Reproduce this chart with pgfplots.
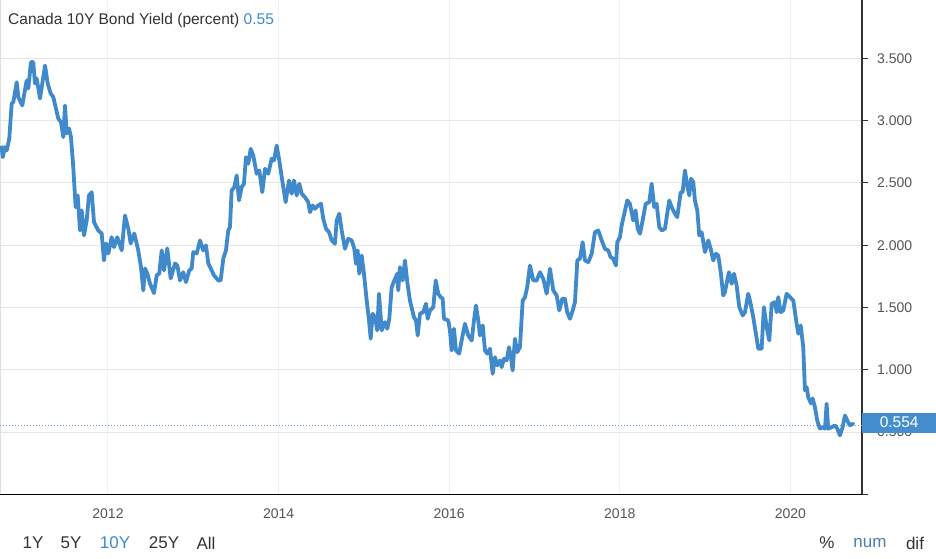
\documentclass[border=0pt]{standalone}
\usepackage{fontspec}
\setmainfont{Liberation Sans}
\usepackage{pgfplots}
\pgfplotsset{compat=1.18}

\definecolor{yieldline}{RGB}{64,138,204}
\definecolor{boxblue}{RGB}{68,141,206}
\definecolor{txtdark}{RGB}{51,51,51}
\definecolor{txtgray}{RGB}{85,85,85}
\definecolor{txtblue}{RGB}{58,140,208}
\definecolor{numblue}{RGB}{74,122,184}
\definecolor{ygrid}{RGB}{230,230,230}
\definecolor{xgrid}{RGB}{236,242,248}

\begin{document}
\begin{tikzpicture}[x=1pt,y=1pt]
\useasboundingbox (0,0) rectangle (936,558);
\begin{axis}[
  at={(0,51)}, anchor=south west,
  width=862pt, height=494pt, scale only axis,
  xmin=2010.734, xmax=2020.840,
  ymin=0, ymax=3.965,
  axis x line*=bottom, axis y line*=right,
  x axis line style={black, line width=1.3pt},
  y axis line style={txtdark, line width=1.3pt},
  xtick={2012,2014,2016,2018,2020},
  xticklabels={2012,2014,2016,2018,2020},
  ytick={0,0.5,1,1.5,2,2.5,3,3.5},
  yticklabel={\ifdim\tick pt=0pt \else\pgfmathprintnumber[fixed,fixed zerofill,precision=3]{\tick}\fi},
  /pgf/number format/assume math mode=true,
  tick align=outside,
  major tick length=6pt,
  xtick style={draw=none},
  ytick style={draw=txtdark, line width=1pt},
  xmajorgrids, ymajorgrids,
  x grid style={xgrid, line width=1pt},
  y grid style={ygrid, line width=1pt},
  xticklabel style={font=\fontsize{14}{16}\selectfont, text=txtgray, anchor=base, yshift=-18pt},
  yticklabel style={font=\fontsize{14}{16}\selectfont, text=txtgray, anchor=west, inner sep=0pt, xshift=9pt},
  clip=false,
]
\draw[gray!25, line width=1pt] (rel axis cs:0,0) -- (rel axis cs:0,1);
\addplot[yieldline!80, line width=1pt, dotted] coordinates {(2010.734,0.554) (2020.840,0.554)};
\addplot[yieldline, line width=3.8pt, line join=round, line cap=round] table {
2010.734 2.761
2010.754 2.788
2010.766 2.707
2010.793 2.788
2010.813 2.761
2010.843 2.857
2010.871 3.138
2010.890 3.149
2010.930 3.309
2010.949 3.189
2010.995 3.122
2011.047 3.323
2011.066 3.259
2011.097 3.470
2011.124 3.470
2011.144 3.299
2011.164 3.339
2011.203 3.178
2011.262 3.443
2011.293 3.299
2011.328 3.219
2011.359 3.189
2011.417 3.018
2011.449 2.988
2011.476 2.868
2011.496 3.122
2011.516 2.898
2011.543 2.938
2011.566 2.868
2011.593 2.627
2011.621 2.306
2011.645 2.400
2011.672 2.119
2011.692 2.280
2011.719 2.079
2011.750 2.199
2011.777 2.400
2011.809 2.426
2011.836 2.186
2011.886 2.119
2011.926 2.095
2011.953 1.878
2011.977 2.015
2012.004 1.934
2012.043 2.065
2012.070 1.985
2012.109 2.065
2012.161 1.959
2012.199 2.239
2012.238 2.135
2012.266 2.015
2012.308 2.095
2012.355 1.959
2012.387 1.825
2012.414 1.638
2012.434 1.814
2012.461 1.774
2012.492 1.694
2012.539 1.616
2012.571 1.758
2012.601 1.774
2012.630 1.959
2012.657 1.798
2012.695 1.975
2012.735 1.734
2012.786 1.854
2012.813 1.838
2012.844 1.718
2012.883 1.784
2012.914 1.704
2012.953 1.798
2012.981 1.814
2013.000 1.945
2013.040 1.934
2013.079 2.039
2013.117 1.959
2013.149 1.999
2013.176 1.854
2013.216 1.798
2013.243 1.758
2013.293 1.718
2013.321 1.718
2013.352 1.894
2013.383 1.959
2013.410 2.119
2013.430 2.146
2013.450 2.440
2013.481 2.467
2013.509 2.561
2013.536 2.360
2013.567 2.467
2013.594 2.494
2013.618 2.707
2013.645 2.654
2013.673 2.775
2013.703 2.721
2013.743 2.574
2013.774 2.601
2013.809 2.426
2013.841 2.614
2013.879 2.574
2013.919 2.695
2013.946 2.681
2013.978 2.801
2014.008 2.681
2014.043 2.520
2014.083 2.346
2014.122 2.520
2014.154 2.414
2014.181 2.520
2014.212 2.400
2014.243 2.494
2014.271 2.414
2014.309 2.386
2014.348 2.346
2014.368 2.266
2014.400 2.320
2014.427 2.293
2014.465 2.320
2014.497 2.333
2014.524 2.213
2014.556 2.133
2014.591 2.105
2014.623 2.039
2014.661 2.012
2014.681 2.199
2014.712 2.253
2014.740 2.119
2014.778 1.972
2014.817 2.052
2014.857 2.039
2014.888 1.972
2014.907 1.852
2014.927 1.959
2014.946 1.772
2014.974 1.918
2015.001 1.772
2015.033 1.557
2015.060 1.397
2015.080 1.250
2015.103 1.451
2015.130 1.423
2015.157 1.317
2015.177 1.611
2015.209 1.317
2015.247 1.383
2015.274 1.330
2015.298 1.410
2015.326 1.664
2015.365 1.731
2015.392 1.772
2015.403 1.638
2015.423 1.825
2015.455 1.718
2015.482 1.878
2015.509 1.704
2015.540 1.557
2015.587 1.423
2015.611 1.397
2015.631 1.276
2015.658 1.451
2015.696 1.463
2015.728 1.531
2015.748 1.410
2015.775 1.477
2015.814 1.504
2015.842 1.718
2015.872 1.611
2015.900 1.584
2015.924 1.571
2015.939 1.410
2015.989 1.397
2016.009 1.317
2016.029 1.156
2016.056 1.330
2016.080 1.156
2016.118 1.130
2016.146 1.236
2016.185 1.370
2016.224 1.276
2016.264 1.236
2016.291 1.397
2016.314 1.517
2016.341 1.397
2016.361 1.276
2016.393 1.357
2016.420 1.156
2016.447 1.130
2016.478 1.170
2016.510 0.969
2016.537 1.102
2016.564 1.036
2016.596 1.076
2016.615 1.022
2016.642 1.089
2016.674 1.076
2016.701 1.182
2016.724 1.102
2016.744 0.995
2016.771 1.250
2016.798 1.142
2016.830 1.182
2016.862 1.557
2016.889 1.584
2016.915 1.664
2016.947 1.838
2016.986 1.718
2017.026 1.718
2017.064 1.784
2017.103 1.731
2017.143 1.611
2017.182 1.812
2017.220 1.638
2017.260 1.597
2017.291 1.477
2017.326 1.571
2017.357 1.571
2017.384 1.463
2017.416 1.410
2017.448 1.477
2017.475 1.544
2017.502 1.878
2017.533 1.892
2017.565 2.025
2017.592 1.878
2017.631 1.865
2017.671 1.932
2017.709 2.105
2017.748 2.119
2017.788 2.039
2017.826 1.972
2017.865 1.959
2017.893 1.905
2017.924 1.892
2017.955 1.838
2017.971 2.025
2018.002 2.065
2018.022 2.159
2018.053 2.253
2018.088 2.360
2018.119 2.333
2018.158 2.199
2018.186 2.280
2018.210 2.133
2018.237 2.093
2018.268 2.199
2018.304 2.333
2018.346 2.346
2018.374 2.494
2018.404 2.306
2018.432 2.333
2018.463 2.146
2018.491 2.119
2018.530 2.133
2018.580 2.360
2018.608 2.306
2018.647 2.253
2018.674 2.226
2018.714 2.426
2018.737 2.426
2018.764 2.601
2018.791 2.480
2018.815 2.400
2018.835 2.534
2018.862 2.507
2018.881 2.360
2018.909 2.280
2018.932 2.079
2018.960 2.105
2018.999 1.945
2019.038 2.039
2019.066 1.972
2019.096 1.878
2019.128 1.932
2019.155 1.918
2019.186 1.772
2019.213 1.597
2019.233 1.624
2019.260 1.718
2019.280 1.784
2019.312 1.691
2019.339 1.772
2019.370 1.678
2019.401 1.504
2019.441 1.437
2019.468 1.463
2019.506 1.611
2019.526 1.557
2019.565 1.423
2019.624 1.170
2019.663 1.170
2019.690 1.504
2019.722 1.343
2019.753 1.236
2019.781 1.531
2019.819 1.544
2019.839 1.463
2019.858 1.584
2019.886 1.463
2019.917 1.477
2019.956 1.611
2019.995 1.584
2020.034 1.557
2020.074 1.370
2020.093 1.290
2020.121 1.357
2020.151 1.182
2020.171 0.835
2020.191 0.861
2020.210 0.781
2020.241 0.731
2020.261 0.771
2020.288 0.701
2020.315 0.594
2020.347 0.528
2020.379 0.540
2020.406 0.528
2020.425 0.728
2020.444 0.528
2020.484 0.540
2020.523 0.554
2020.550 0.528
2020.581 0.474
2020.613 0.540
2020.640 0.634
2020.667 0.594
2020.699 0.554
2020.737 0.568
};
\end{axis}
% last-value box on the right axis
\node[fill=boxblue, text=white, anchor=west, minimum width=74pt, minimum height=20pt, inner sep=0pt,
  font=\fontsize{15.5}{17}\selectfont] at (862,135.5) {0.554};
% title
\node[anchor=west, inner sep=0pt, text=txtdark, font=\fontsize{15.5}{18}\selectfont] at (8,538)
  {Canada 10Y Bond Yield (percent) \textcolor{txtblue}{0.55}};
% range buttons
\begin{scope}[every node/.style={inner sep=0pt, font=\fontsize{17}{19}\selectfont, text=txtdark}]
\node at (33,15) {1Y};
\node at (71,15) {5Y};
\node[text=txtblue] at (115,15) {10Y};
\node at (164,15) {25Y};
\node at (206,15) {All};
\node at (827,15) {\%};
\node[text=numblue] at (870,15) {num};
\node at (915,15) {dif};
\end{scope}
\end{tikzpicture}
\end{document}
